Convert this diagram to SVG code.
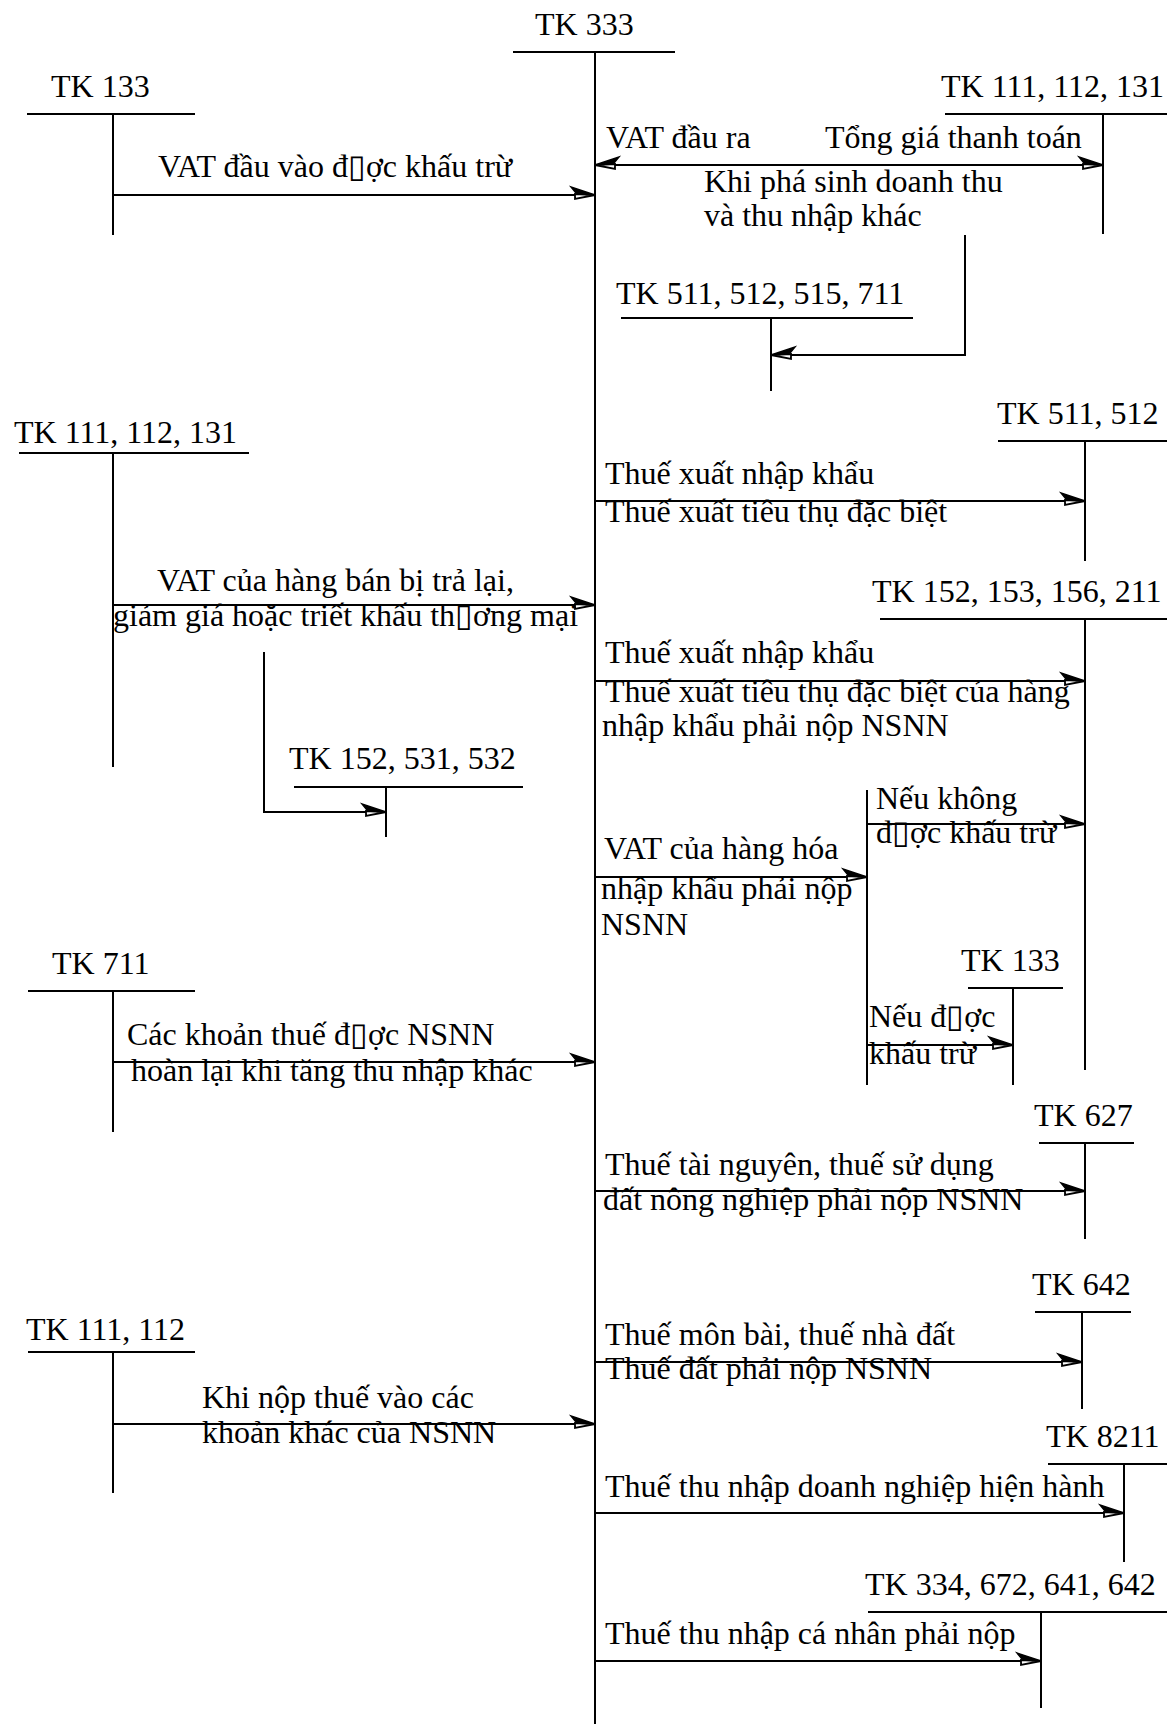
<svg xmlns="http://www.w3.org/2000/svg" width="1167" height="1724" viewBox="0 0 1167 1724">
<style>
  text { font-family: "Liberation Serif", "Times New Roman", serif; font-size: 32px; fill: #000; }
  line, polyline { stroke: #000; stroke-width: 2; fill: none; }
</style>
<defs>
  <marker id="arrR" markerUnits="userSpaceOnUse" viewBox="-26 -10 28 20" refX="0" refY="0" markerWidth="28" markerHeight="20" orient="0" overflow="visible">
    <path d="M0,0 L-24,-8 L-19,-2 Z" fill="#000" stroke="#000" stroke-width="1.4"/>
    <path d="M0,0 L-20,-1 L-20,4 Z" fill="#fff" stroke="#000" stroke-width="1.8"/>
  </marker>
  <marker id="arrL" markerUnits="userSpaceOnUse" viewBox="-2 -10 28 20" refX="0" refY="0" markerWidth="28" markerHeight="20" orient="0" overflow="visible">
    <path d="M0,0 L24,-8 L19,-2 Z" fill="#000" stroke="#000" stroke-width="1.4"/>
    <path d="M0,0 L20,-1 L20,4 Z" fill="#fff" stroke="#000" stroke-width="1.8"/>
  </marker>
</defs>
<rect width="1167" height="1724" fill="#fff"/>

<g id="tk333">
  <text x="535" y="35">TK 333</text>
  <line x1="513" y1="52" x2="675" y2="52"/>
  <line x1="595" y1="52" x2="595" y2="1724"/>
</g>
<g id="tk133-top">
  <text x="51" y="97">TK 133</text>
  <line x1="27" y1="114" x2="195" y2="114"/>
  <line x1="113" y1="114" x2="113" y2="235"/>
</g>
<g id="tk111-112-131-right">
  <text x="941" y="97">TK 111, 112, 131</text>
  <line x1="945" y1="114" x2="1167" y2="114"/>
  <line x1="1103" y1="114" x2="1103" y2="234"/>
</g>
<g id="tk511-512-515-711">
  <text x="616" y="304">TK 511, 512, 515, 711</text>
  <line x1="621" y1="318" x2="913" y2="318"/>
  <line x1="771" y1="318" x2="771" y2="391"/>
</g>
<g id="tk111-112-131-left">
  <text x="14" y="443">TK 111, 112, 131</text>
  <line x1="19" y1="453" x2="249" y2="453"/>
  <line x1="113" y1="453" x2="113" y2="767"/>
</g>
<g id="tk511-512">
  <text x="997" y="424">TK 511, 512</text>
  <line x1="998" y1="441" x2="1167" y2="441"/>
  <line x1="1085" y1="441" x2="1085" y2="561"/>
</g>
<g id="tk152-153-156-211">
  <text x="872" y="602">TK 152, 153, 156, 211</text>
  <line x1="880" y1="619" x2="1167" y2="619"/>
  <line x1="1085" y1="619" x2="1085" y2="1070"/>
</g>
<g id="tk152-531-532">
  <text x="289" y="769">TK 152, 531, 532</text>
  <line x1="294" y1="787" x2="523" y2="787"/>
  <line x1="386" y1="787" x2="386" y2="837"/>
</g>
<g id="tk133-right">
  <text x="961" y="971">TK 133</text>
  <line x1="968" y1="988" x2="1063" y2="988"/>
  <line x1="1013" y1="988" x2="1013" y2="1085"/>
</g>
<g id="tk711">
  <text x="52" y="974">TK 711</text>
  <line x1="28" y1="991" x2="195" y2="991"/>
  <line x1="113" y1="991" x2="113" y2="1132"/>
</g>
<g id="tk627">
  <text x="1034" y="1126">TK 627</text>
  <line x1="1039" y1="1143" x2="1134" y2="1143"/>
  <line x1="1085" y1="1143" x2="1085" y2="1239"/>
</g>
<g id="tk642">
  <text x="1032" y="1295">TK 642</text>
  <line x1="1035" y1="1312" x2="1131" y2="1312"/>
  <line x1="1082" y1="1312" x2="1082" y2="1409"/>
</g>
<g id="tk111-112">
  <text x="26" y="1340">TK 111, 112</text>
  <line x1="28" y1="1352" x2="195" y2="1352"/>
  <line x1="113" y1="1352" x2="113" y2="1493"/>
</g>
<g id="tk8211">
  <text x="1046" y="1447">TK 8211</text>
  <line x1="1048" y1="1464" x2="1167" y2="1464"/>
  <line x1="1124" y1="1464" x2="1124" y2="1562"/>
</g>
<g id="tk334-672-641-642">
  <text x="865" y="1595">TK 334, 672, 641, 642</text>
  <line x1="868" y1="1612" x2="1167" y2="1612"/>
  <line x1="1041" y1="1612" x2="1041" y2="1708"/>
</g>

<g id="connectors">
  <line x1="113" y1="195" x2="595" y2="195" marker-end="url(#arrR)"/>
  <text x="158" y="177">VAT đầu vào đ▯ợc khấu trừ</text>

  <line x1="595" y1="165" x2="1103" y2="165" marker-start="url(#arrL)" marker-end="url(#arrR)"/>
  <text x="606" y="148">VAT đầu ra</text>
  <text x="825" y="148">Tổng giá thanh toán</text>
  <text x="704" y="192">Khi phá sinh doanh thu</text>
  <text x="704" y="226">và thu nhập khác</text>

  <polyline points="965,235 965,355 771,355" marker-end="url(#arrL)"/>

  <line x1="113" y1="605" x2="595" y2="605" marker-end="url(#arrR)"/>
  <text x="157" y="591">VAT của hàng bán bị trả lại,</text>
  <text x="113" y="626">giảm giá hoặc triết khấu th▯ơng mại</text>

  <polyline points="264,652 264,812 386,812" marker-end="url(#arrR)"/>

  <line x1="595" y1="501" x2="1085" y2="501" marker-end="url(#arrR)"/>
  <text x="605" y="484">Thuế xuất nhập khẩu</text>
  <text x="605" y="522">Thuế xuất tiêu thụ đặc biệt</text>

  <line x1="595" y1="681" x2="1085" y2="681" marker-end="url(#arrR)"/>
  <text x="605" y="663">Thuế xuất nhập khẩu</text>
  <text x="605" y="702">Thuế xuất tiêu thụ đặc biệt của hàng</text>
  <text x="602" y="736">nhập khẩu phải nộp NSNN</text>

  <line x1="867" y1="790" x2="867" y2="1085"/>

  <line x1="595" y1="877" x2="867" y2="877" marker-end="url(#arrR)"/>
  <text x="604" y="859">VAT của hàng hóa</text>
  <text x="601" y="899">nhập khẩu phải nộp</text>
  <text x="601" y="935">NSNN</text>

  <line x1="867" y1="824" x2="1085" y2="824" marker-end="url(#arrR)"/>
  <text x="876" y="809">Nếu không</text>
  <text x="876" y="843">đ▯ợc khấu trừ</text>

  <line x1="867" y1="1045" x2="1013" y2="1045" marker-end="url(#arrR)"/>
  <text x="869" y="1027">Nếu đ▯ợc</text>
  <text x="869" y="1064">khấu trừ</text>

  <line x1="113" y1="1062" x2="595" y2="1062" marker-end="url(#arrR)"/>
  <text x="127" y="1045">Các khoản thuế đ▯ợc NSNN</text>
  <text x="131" y="1081">hoàn lại khi tăng thu nhập khác</text>

  <line x1="595" y1="1191" x2="1085" y2="1191" marker-end="url(#arrR)"/>
  <text x="605" y="1175">Thuế tài nguyên, thuế sử dụng</text>
  <text x="603" y="1210">đất nông nghiệp phải nộp NSNN</text>

  <line x1="595" y1="1362" x2="1082" y2="1362" marker-end="url(#arrR)"/>
  <text x="605" y="1345">Thuế môn bài, thuế nhà đất</text>
  <text x="605" y="1379">Thuế đất phải nộp NSNN</text>

  <line x1="113" y1="1424" x2="595" y2="1424" marker-end="url(#arrR)"/>
  <text x="202" y="1408">Khi nộp thuế vào các</text>
  <text x="202" y="1443">khoản khác của NSNN</text>

  <line x1="595" y1="1513" x2="1124" y2="1513" marker-end="url(#arrR)"/>
  <text x="605" y="1497">Thuế thu nhập doanh nghiệp hiện hành</text>

  <line x1="595" y1="1661" x2="1041" y2="1661" marker-end="url(#arrR)"/>
  <text x="605" y="1644">Thuế thu nhập cá nhân phải nộp</text>
</g>
</svg>
